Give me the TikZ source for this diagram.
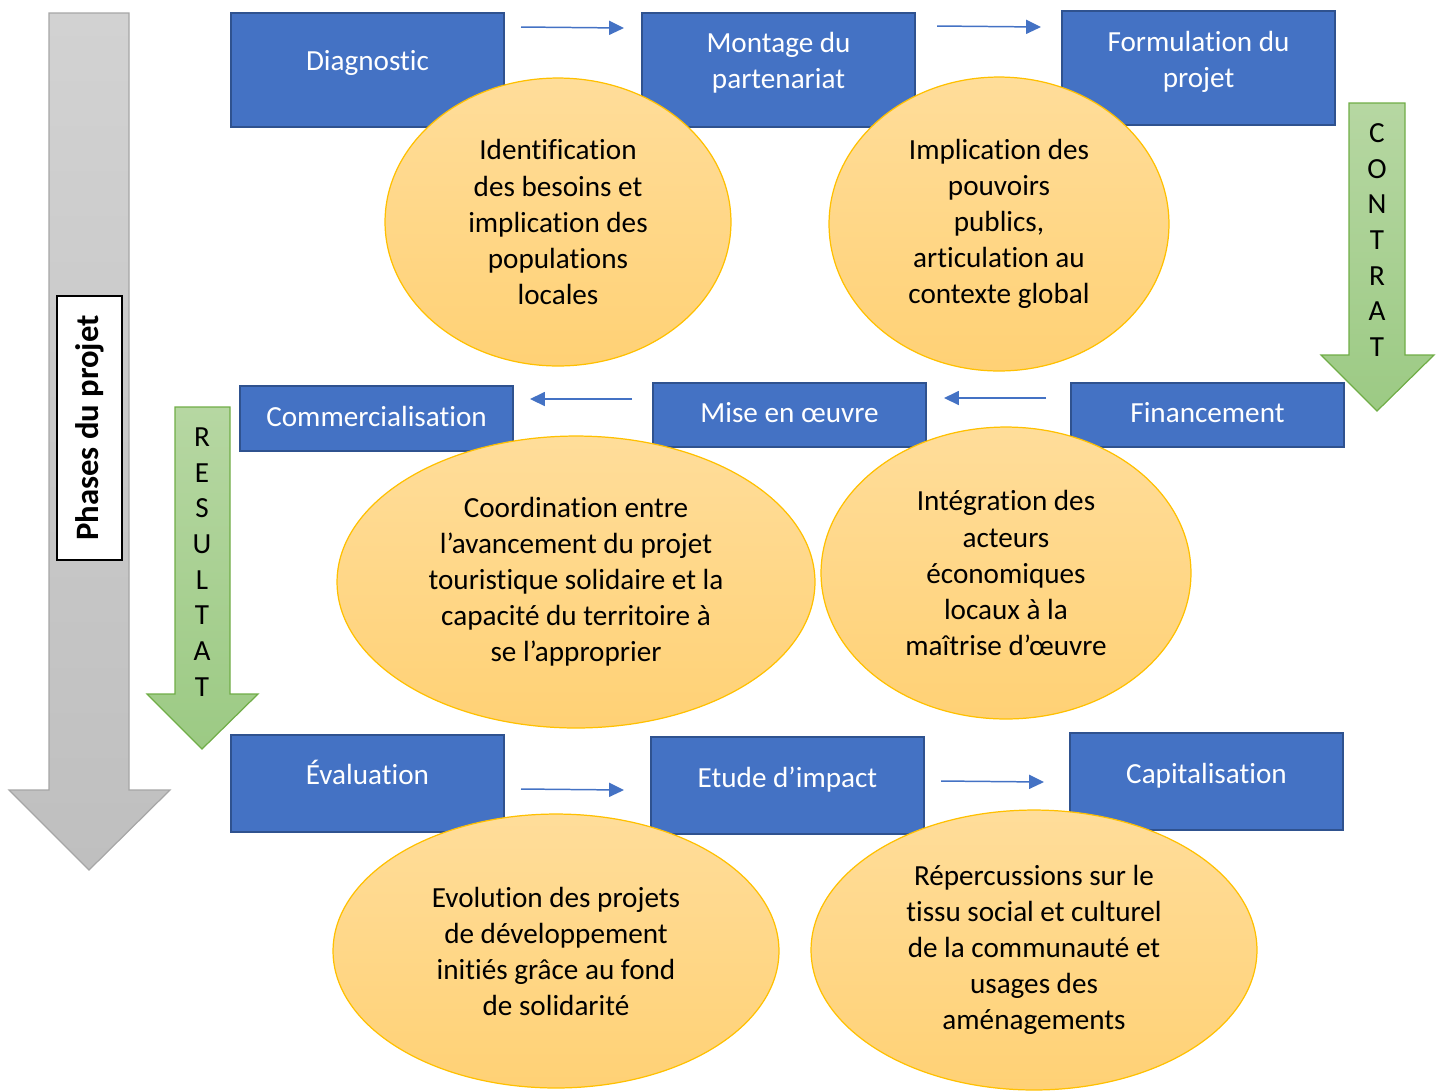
\documentclass[tikz,border=0pt]{standalone}
\usepackage{fontspec}
\setmainfont{Carlito}[Ligatures=NoCommon]
\usetikzlibrary{shapes.geometric,arrows.meta}

\definecolor{boxblue}{HTML}{4472C4}
\definecolor{boxedge}{HTML}{2F528F}
\definecolor{ovaltop}{HTML}{FFDD9A}
\definecolor{ovalbot}{HTML}{FFD175}
\definecolor{ovaledge}{HTML}{FFC000}
\definecolor{greentop}{HTML}{B6D7A2}
\definecolor{greenbot}{HTML}{9CCA84}
\definecolor{greenedge}{HTML}{70AD47}
\definecolor{greytop}{HTML}{D2D2D2}
\definecolor{greybot}{HTML}{BFBFBF}
\definecolor{greyedge}{HTML}{A6A6A6}

\tikzset{
  txt/.style={font=\fontsize{16.6}{20.5}\selectfont, align=center},
  phase/.style={rectangle, draw=boxedge, fill=boxblue, line width=1.6pt, minimum width=5.46cm},
  phasetxt/.style={txt, text=white},
  oval/.style={ellipse, draw=ovaledge, line width=0.7pt, top color=ovaltop, bottom color=ovalbot, inner sep=0pt, txt},
  flow/.style={-{Triangle[length=8.5pt,width=8pt]}, draw=boxblue, line width=0.85pt},
  bigarrow/.style={draw=greenedge, line width=0.7pt, top color=greentop, bottom color=greenbot},
  letter/.style={txt}
}

\begin{document}
\begin{tikzpicture}[x=0.02cm,y=-0.02cm]

\useasboundingbox (0,0) rectangle (1440,1090);

% Drawing the phases arrow
\draw[draw=greyedge, line width=0.7pt, top color=greytop, bottom color=greybot]
  (49,13) -- (129,13) -- (129,790) -- (170,790) -- (89,870) -- (9,790) -- (49,790) -- cycle;
\node[draw=black, fill=white, line width=1.2pt, rotate=90, minimum width=5.28cm, minimum height=1.30cm,
  font=\bfseries\fontsize{18.6}{22}\selectfont] (phases) at (89.5,428) {Phases du projet};

% Drawing contrat and resultat arrows
\draw[bigarrow] (1349,103) -- (1405,103) -- (1405,355) -- (1434,355) -- (1377,411) -- (1321,355) -- (1349,355) -- cycle;
\draw[bigarrow] (175,407) -- (230,407) -- (230,694) -- (258,694) -- (202,749) -- (147,694) -- (175,694) -- cycle;
\foreach \l [count=\i] in {C,O,N,T,R,A,T}
  \node[letter] (contrat\i) at (1377,{133+35.7*(\i-1)}) {\l};
\foreach \l [count=\i] in {R,E,S,U,L,T,A,T}
  \node[letter] (resultat\i) at (202,{437+35.7*(\i-1)}) {\l};

% Drawing phase boxes
\node[phase, minimum height=2.28cm] (diag) at (367.5,70) {};
\node[phase, minimum height=2.28cm] (montage) at (778.5,70) {};
\node[phase, minimum height=2.28cm] (formul) at (1198.5,68) {};
\node[phase, minimum height=1.30cm] (commerc) at (376.5,418.5) {};
\node[phase, minimum height=1.28cm] (mise) at (789.5,415) {};
\node[phase, minimum height=1.28cm] (financ) at (1207.5,415) {};
\node[phase, minimum height=1.94cm] (evalu) at (367.5,783.5) {};
\node[phase, minimum height=1.94cm] (etude) at (787.5,785.5) {};
\node[phase, minimum height=1.94cm] (capital) at (1206.5,781.5) {};

% Box texts
\node[phasetxt] (diagt) at (367.5,63) {Diagnostic};
\node[phasetxt] (montaget) at (778.5,63) {Montage du\\partenariat};
\node[phasetxt] (formult) at (1198.5,61.5) {Formulation du\\projet};
\node[phasetxt] (commerct) at (376.5,416) {Commercialisation};
\node[phasetxt] (miset) at (789.5,413) {Mise en œuvre};
\node[phasetxt] (financt) at (1207.5,413) {Financement};
\node[phasetxt] (evalut) at (367.5,772) {Évaluation};
\node[phasetxt] (etudet) at (787.5,780) {Etude d’impact};
\node[phasetxt] (capitalt) at (1206.5,776) {Capitalisation};

% Connecting them
\coordinate (r1a) at (521,27);   \coordinate (r1b) at (624,28);
\coordinate (r1c) at (937,26);   \coordinate (r1d) at (1041,27);
\coordinate (r2a) at (1046,398); \coordinate (r2b) at (944,398);
\coordinate (r2c) at (632,399);  \coordinate (r2d) at (530,399);
\coordinate (r3a) at (521,789);  \coordinate (r3b) at (624,790);
\coordinate (r3c) at (941,781);  \coordinate (r3d) at (1044,782);
\draw[flow] (r1a) -- (r1b);
\draw[flow] (r1c) -- (r1d);
\draw[flow] (r2a) -- (r2b);
\draw[flow] (r2c) -- (r2d);
\draw[flow] (r3a) -- (r3b);
\draw[flow] (r3c) -- (r3d);

% Drawing ellipses
\node[oval, minimum width=6.92cm, minimum height=5.76cm] (besoins) at (558,222)
  {Identification\\des besoins et\\implication des\\populations\\locales};
\node[oval, minimum width=6.80cm, minimum height=5.88cm] (pouvoirs) at (999,224)
  {Implication des\\pouvoirs\\publics,\\articulation au\\contexte global};
\node[oval, minimum width=9.56cm, minimum height=5.84cm] (coord) at (576,582)
  {Coordination entre\\l’avancement du projet\\touristique solidaire et la\\capacité du territoire à\\se l’approprier};
\node[oval, minimum width=7.40cm, minimum height=5.84cm] (acteurs) at (1006,573)
  {Intégration des\\acteurs\\économiques\\locaux à la\\maîtrise d’œuvre};
\node[oval, minimum width=8.92cm, minimum height=5.48cm] (evol) at (556,951)
  {Evolution des projets\\de développement\\initiés grâce au fond\\de solidarité};
\node[oval, minimum width=8.92cm, minimum height=5.60cm] (reperc) at (1034,950)
  {Répercussions sur le\\tissu social et culturel\\de la communauté et\\usages des\\aménagements};

\end{tikzpicture}
\end{document}
